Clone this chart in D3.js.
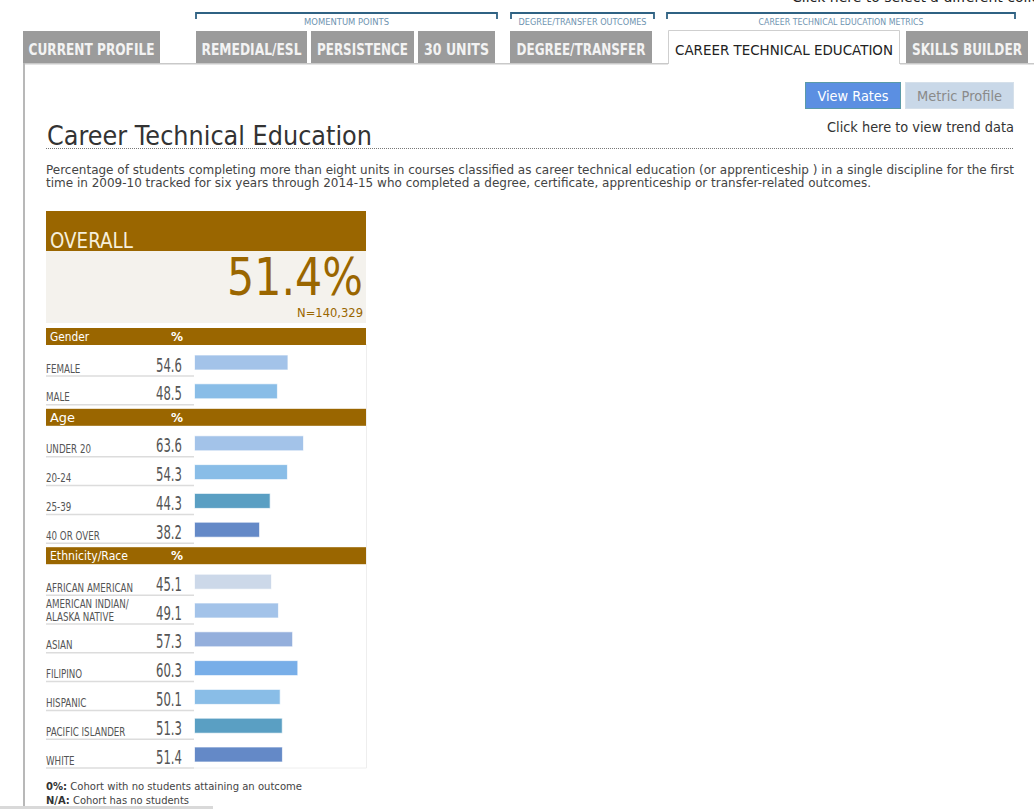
<!DOCTYPE html>
<html><head><meta charset="utf-8">
<script src="https://cdn.jsdelivr.net/npm/d3@7"></script>
<style>html,body{margin:0;padding:0;background:#fff;overflow:hidden}</style>
</head><body><svg id="c" width="1034" height="809"></svg>
<script>
// ---------- DATA ----------
const tabNames = ["CURRENT PROFILE","REMEDIAL/ESL","PERSISTENCE","30 UNITS","DEGREE/TRANSFER","CAREER TECHNICAL EDUCATION","SKILLS BUILDER"];
const activeTab = "CAREER TECHNICAL EDUCATION";
const groupNames = ["MOMENTUM POINTS","DEGREE/TRANSFER OUTCOMES","CAREER TECHNICAL EDUCATION METRICS"];
const buttonNames = ["View Rates","Metric Profile"];
const titleText = "Career Technical Education";
const descriptionLines = [
  "Percentage of students completing more than eight units in courses classified as career technical education (or apprenticeship ) in a single discipline for the first",
  "time in 2009-10 tracked for six years through 2014-15 who completed a degree, certificate, apprenticeship or transfer-related outcomes."
];
const overallLabel = "OVERALL";
const overallValue = 51.4;
const overallN = "140,329";
const sectionNames = ["Gender","Age","Ethnicity/Race"];
const genderLabels = ["FEMALE","MALE"];
const genderValues = [54.6,48.5];
const ageLabels = ["UNDER 20","20-24","25-39","40 OR OVER"];
const ageValues = [63.6,54.3,44.3,38.2];
const ethnicityLabels = ["AFRICAN AMERICAN","AMERICAN INDIAN/\nALASKA NATIVE","ASIAN","FILIPINO","HISPANIC","PACIFIC ISLANDER","WHITE"];
const ethnicityValues = [45.1,49.1,57.3,60.3,50.1,51.3,51.4];
const genderColors = ["#a3c3e9","#89bde7"];
const ageColors = ["#a3c3e9","#89bde7","#5a9fc3","#6489c7"];
const ethnicityColors = ["#ccd8e9","#a3c3e9","#94afdc","#78aee8","#89bde7","#5a9fc3","#6489c7"];
const footnotes = [["0%:"," Cohort with no students attaining an outcome"],["N/A:"," Cohort has no students"]];

// ---------- LAYOUT ----------
const svg = d3.select("#c");
const FONT = "'DejaVu Sans', Verdana, sans-serif";
const BROWN = "#9a6600";
function fitW(t, w){ return t.attr("textLength", w).attr("lengthAdjust","spacingAndGlyphs"); }

// clipped top text
svg.append("text").attr("x",792).attr("y",1.5).attr("font-family",FONT).attr("font-size",14).attr("fill","#222")
  .text("Click here to select a different college");

// group brackets
const groupSpans = [[196,497],[511,654],[667,1015]];
const groupTextW = [85,128,165];
groupNames.forEach((g,i)=>{
  const [a,b] = groupSpans[i];
  svg.append("path").attr("d",`M${a},19V13H${b}V19`).attr("fill","none").attr("stroke","#2f6283").attr("stroke-width",1.8);
  fitW(svg.append("text").attr("x",(a+b)/2 - groupTextW[i]/2).attr("y",25).attr("font-family",FONT)
    .attr("font-size",9).attr("fill","#6e93b0").text(g), groupTextW[i]);
});

// tabs
const tabSpans = [[23,160],[196,307],[311,414],[418,495],[510,652],[668,900],[906,1028]];
const tabTextW = [126,100,91,65,129,218,110];
svg.append("rect").attr("x",23).attr("y",63).attr("width",1011).attr("height",1.5).attr("fill","#c9c9c9");
tabNames.forEach((t,i)=>{
  const [a,b] = tabSpans[i];
  const active = t===activeTab;
  if(active){
    svg.append("rect").attr("x",a).attr("y",30).attr("width",b-a).attr("height",35).attr("fill","#fff");
    svg.append("path").attr("d",`M${a+0.5},64V30.5H${b-0.5}V64`).attr("fill","none").attr("stroke","#cfcfcf");
  } else {
    svg.append("rect").attr("x",a).attr("y",31).attr("width",b-a).attr("height",32).attr("fill","#9b9b9b");
  }
  fitW(svg.append("text").attr("x",(a+b)/2 - tabTextW[i]/2).attr("y",55).attr("font-family",FONT)
    .attr("font-size",active?14.5:15).attr("font-weight",active?"normal":"bold")
    .attr("fill",active?"#222":"#f3f3f3").text(t), tabTextW[i]);
});
svg.append("rect").attr("x",23).attr("y",63).attr("width",2).attr("height",746).attr("fill","#b8b8b8");

// buttons
const btnSpans = [[805,901],[905,1014]];
const btnTextW = [71,85];
buttonNames.forEach((b,i)=>{
  const [a,e] = btnSpans[i];
  svg.append("rect").attr("x",a+0.5).attr("y",82.5).attr("width",e-a-1).attr("height",26)
    .attr("fill",i===0?"#5b8fe2":"#c9d8e8").attr("stroke",i===0?"#5a9aa8":"#d5e0ea");
  fitW(svg.append("text").attr("x",(a+e)/2-btnTextW[i]/2).attr("y",101).attr("font-family",FONT)
    .attr("font-size",14).attr("fill",i===0?"#fff":"#8a8a8a").text(b), btnTextW[i]);
});
fitW(svg.append("text").attr("x",1014-187).attr("y",132).attr("font-family",FONT).attr("font-size",14)
  .attr("fill","#333").text("Click here to view trend data"),187);

// title
fitW(svg.append("text").attr("x",47).attr("y",145).attr("font-family",FONT).attr("font-size",27)
  .attr("fill","#333").text(titleText),325);
svg.append("line").attr("x1",46).attr("x2",1014).attr("y1",148.5).attr("y2",148.5)
  .attr("stroke","#777").attr("stroke-dasharray","1,1");
const descW = [968,825];
descriptionLines.forEach((l,i)=>{
  fitW(svg.append("text").attr("x",46).attr("y",174+i*12.5).attr("font-family",FONT).attr("font-size",12.5)
    .attr("fill","#444").text(l), descW[i]);
});

// overall box
svg.append("rect").attr("x",46).attr("y",211).attr("width",320).attr("height",40).attr("fill",BROWN);
svg.append("rect").attr("x",46).attr("y",251).attr("width",320).attr("height",72).attr("fill","#f4f2ed");
fitW(svg.append("text").attr("x",50).attr("y",248).attr("font-family",FONT).attr("font-size",22)
  .attr("fill","#f6efdc").text(overallLabel),83);
fitW(svg.append("text").attr("x",227).attr("y",295).attr("font-family",FONT).attr("font-size",52)
  .attr("fill",BROWN).text(d3.format(".1f")(overallValue)+"%"),136);
fitW(svg.append("text").attr("x",297).attr("y",317).attr("font-family",FONT).attr("font-size",12.5)
  .attr("fill",BROWN).text("N="+overallN),66);

// sections
const x = d3.scaleLinear().domain([0,100]).range([0,173]);
const barX0 = 194;
const sections = [
  {name:sectionNames[0], labels:genderLabels, values:genderValues, colors:genderColors},
  {name:sectionNames[1], labels:ageLabels, values:ageValues, colors:ageColors},
  {name:sectionNames[2], labels:ethnicityLabels, values:ethnicityValues, colors:ethnicityColors}
];
const headerW = {Gender:39, Age:25, "Ethnicity/Race":78};
const probe = svg.append("text").attr("font-family",FONT).attr("font-size",13).text("AFRICAN AMERICAN");
const kLab = 87/probe.node().getComputedTextLength(); probe.remove();
const probe2 = svg.append("text").attr("font-family",FONT).attr("font-size",19).text("54.6");
const kVal = 26/probe2.node().getComputedTextLength(); probe2.remove();

const PITCH = 28.8;
let H = 328;
let lastSep = 0;
sections.forEach(sec=>{
  svg.append("rect").attr("x",46).attr("y",H).attr("width",320).attr("height",17).attr("fill",BROWN);
  fitW(svg.append("text").attr("x",50).attr("y",H+13).attr("font-family",FONT).attr("font-size",12.5)
    .attr("fill","#fff").text(sec.name), headerW[sec.name]);
  svg.append("text").attr("x",171).attr("y",H+13).attr("font-family",FONT).attr("font-size",12)
    .attr("font-weight","bold").attr("fill","#fff").text("%");
  const y = d3.scaleLinear().domain([0,1]).range([H+47.5, H+47.5+PITCH]);
  const g = svg.append("g");
  const rows = g.selectAll("g").data(sec.labels.map((l,i)=>({label:l,value:sec.values[i],color:sec.colors[i],i}))).join("g");
  rows.append("line").attr("x1",46).attr("x2",194).attr("y1",d=>y(d.i)+0.5).attr("y2",d=>y(d.i)+0.5)
    .attr("stroke","#dcdcdc").attr("stroke-width",1.5);
  rows.append("rect").attr("x",barX0+0.5).attr("y",d=>y(d.i)-20.5).attr("height",15)
    .attr("width",d=>x(d.value)-1).attr("fill",d=>d.color).attr("stroke","rgba(255,255,255,0.7)");
  rows.each(function(d){
    const r = d3.select(this);
    const lines = d.label.split("\n");
    lines.forEach((ln,j)=>{
      const t = r.append("text").attr("x",46).attr("y",y(d.i)-3-(lines.length-1-j)*12.5)
        .attr("font-family",FONT).attr("font-size",13).attr("fill","#555").text(ln);
      const w = t.node().getComputedTextLength()*kLab;
      fitW(t,w);
    });
    const v = r.append("text").attr("y",y(d.i)-4).attr("font-family",FONT).attr("font-size",19)
      .attr("fill","#555").text(d3.format(".1f")(d.value));
    const vw = v.node().getComputedTextLength()*kVal;
    v.attr("x",182-vw); fitW(v,vw);
  });
  lastSep = y(sec.labels.length-1);
  H = lastSep + 4.5;
});
svg.append("path").attr("d",`M194,${lastSep+0.5}H366.5V344`).attr("fill","none").attr("stroke","#eeeeee");

// footnotes
footnotes.forEach((f,i)=>{
  const t = svg.append("text").attr("x",46).attr("y",790+i*14).attr("font-family",FONT).attr("font-size",11).attr("fill","#444");
  t.append("tspan").attr("font-weight","bold").attr("fill","#333").text(f[0]);
  t.append("tspan").text(f[1]);
  fitW(t, i===0?256:143);
});
svg.append("rect").attr("x",0).attr("y",806).attr("width",213).attr("height",3).attr("fill","#d9d9d9");
</script></body></html>
